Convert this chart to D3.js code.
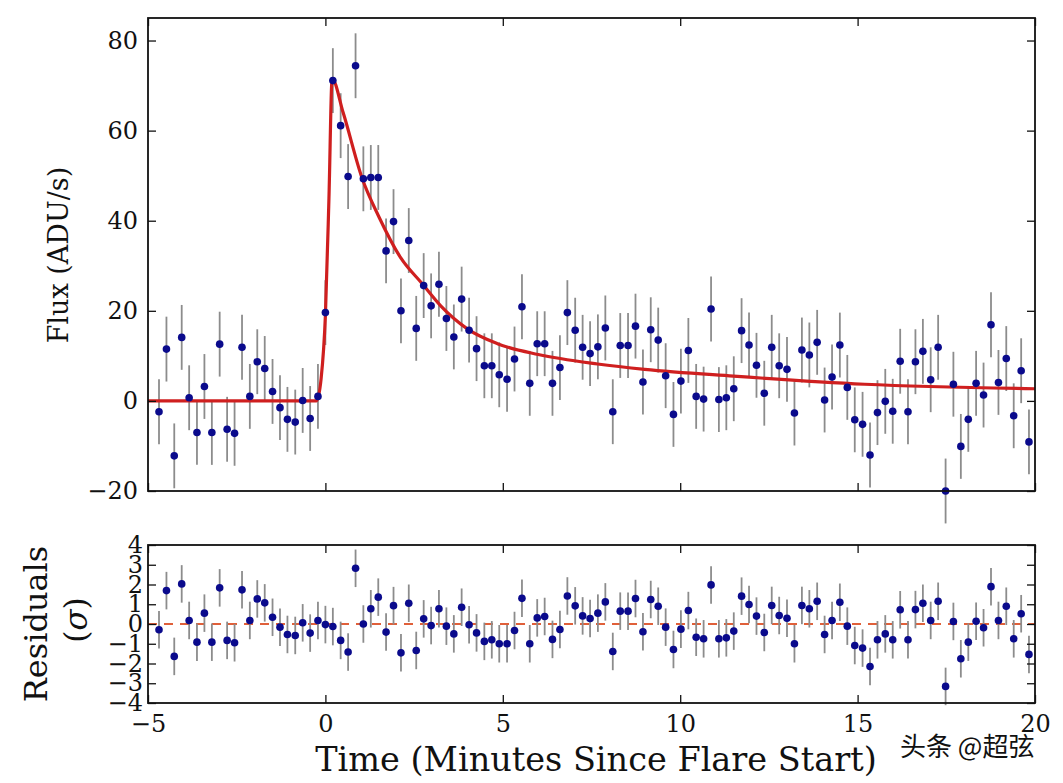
<!DOCTYPE html>
<html>
  <head>
    <meta charset="utf-8">
    <title>Flare light curve</title>
    <script src="https://cdn.jsdelivr.net/npm/d3@7/dist/d3.min.js"></script>
    <style>
      body { margin: 0; background: #fff; }
      text { font-family: 'DejaVu Serif', serif; fill: #111; }
    </style>
  </head>
  <body>
    <svg width="1063" height="783"></svg>
    <script>
      // time of each exposure (minutes since flare start)
      const times = [
        -4.69, -4.48, -4.26, -4.05, -3.84, -3.62, -3.41, -3.20, -2.98, -2.77, -2.56,
        -2.35, -2.13, -1.92, -1.71, -1.49, -1.28, -1.07, -0.85, -0.64, -0.43, -0.21,
        0.00, 0.21, 0.43, 0.64, 0.85, 1.07, 1.28, 1.49, 1.71, 1.92,
        2.13, 2.35, 2.56, 2.77, 2.98, 3.20, 3.41, 3.62, 3.84, 4.05,
        4.26, 4.48, 4.69, 4.90, 5.12, 5.33, 5.54, 5.76, 5.97, 6.18,
        6.40, 6.61, 6.82, 7.04, 7.25, 7.46, 7.68, 7.89, 8.10, 8.31,
        8.53, 8.74, 8.95, 9.17, 9.38, 9.59, 9.81, 10.02, 10.23, 10.45,
        10.66, 10.87, 11.09, 11.30, 11.51, 11.73, 11.94, 12.15, 12.37, 12.58,
        12.79, 13.01, 13.22, 13.43, 13.64, 13.86, 14.07, 14.28, 14.50, 14.71,
        14.92, 15.14, 15.35, 15.56, 15.78, 15.99, 16.20, 16.42, 16.63, 16.84,
        17.06, 17.27, 17.48, 17.70, 17.91, 18.12, 18.34, 18.55, 18.76, 18.97,
        19.19, 19.40, 19.61, 19.83
      ];
      // measured flux (ADU/s)
      const flux = [
        -2.4, 11.5, -12.2, 14.1, 0.7, -7.0, 3.2, -7.0, 12.6, -6.3, -7.2,
        11.9, 1.0, 8.7, 7.2, 2.1, -1.5, -4.1, -4.7, 0.1, -3.9, 1.0,
        19.6, 71.1, 61.1, 49.8, 74.4, 49.3, 49.6, 49.6, 33.3, 39.8,
        20.0, 35.6, 16.1, 25.6, 21.1, 25.9, 18.3, 14.2, 22.6, 15.7,
        11.6, 7.8, 7.8, 5.8, 4.8, 9.3, 20.9, 3.9, 12.7, 12.7,
        3.9, 7.4, 19.6, 15.7, 11.9, 10.5, 12.0, 16.2, -2.4, 12.3,
        12.3, 16.6, 4.2, 15.8, 13.5, 5.6, -3.0, 4.4, 11.2, 1.0,
        0.4, 20.4, 0.3, 0.7, 2.7, 15.6, 12.4, 7.9, 1.7, 11.9,
        7.8, 7.0, -2.7, 11.3, 10.2, 13.0, 0.2, 5.3, 12.4, 3.0,
        -4.2, -5.2, -12.0, -2.6, -0.1, -2.3, 8.8, -2.4, 8.7, 11.0,
        4.7, 11.9, -20.0, 3.7, -10.1, -4.1, 3.9, 1.3, 16.9, 4.1,
        9.4, -3.3, 6.7, -9.1
      ];
      const fluxErr = 7.2;
      // residuals in units of sigma
      const resid = [
        -0.29, 1.69, -1.64, 2.03, 0.18, -0.92, 0.55, -0.92, 1.83, -0.83, -0.95,
        1.73, 0.18, 1.27, 1.07, 0.34, -0.16, -0.53, -0.58, 0.06, -0.46, 0.18,
        -0.03, -0.13, -0.83, -1.42, 2.82, 0.00, 0.77, 1.36, -0.41, 0.93,
        -1.46, 1.05, -1.34, 0.26, -0.08, 0.77, -0.11, -0.50, 0.85, -0.04,
        -0.45, -0.88, -0.80, -1.00, -1.00, -0.33, 1.30, -1.00, 0.31, 0.38,
        -0.78, -0.28, 1.42, 0.92, 0.41, 0.28, 0.55, 1.12, -1.39, 0.65,
        0.65, 1.29, -0.39, 1.24, 0.90, -0.16, -1.29, -0.26, 0.68, -0.67,
        -0.75, 1.98, -0.75, -0.70, -0.36, 1.41, 0.99, 0.40, -0.43, 0.94,
        0.43, 0.29, -1.00, 0.94, 0.77, 1.15, -0.53, 0.18, 1.10, -0.11,
        -1.09, -1.22, -2.15, -0.80, -0.50, -0.80, 0.72, -0.80, 0.73, 1.05,
        0.18, 1.15, -3.16, 0.13, -1.76, -0.92, 0.14, -0.19, 1.89, 0.18,
        0.90, -0.75, 0.52, -1.54
      ];
      const residErr = 0.95;
      // fitted flare model
      const modelT = [-5, -0.25, -0.12, 0.0, 0.1, 0.19, 0.5, 1.04, 1.5, 2.12, 2.73, 3.25, 4.0, 4.85, 6.0, 7.67, 9.0, 11.5, 15.2, 20];
      const modelF = [0, 0, 5, 19, 45, 71.5, 64, 49.3, 41, 31.8, 26, 21.1, 16, 12.7, 10.3, 8.2, 7.0, 5.5, 3.7, 2.7];

      const xTicks = [-5, 0, 5, 10, 15, 20];
      const fluxTicks = [-20, 0, 20, 40, 60, 80];
      const residTicks = [-4, -3, -2, -1, 0, 1, 2, 3, 4];

      const svg = d3.select('svg');
      const left = 148, right = 1035;
      const top1 = 18, bot1 = 491;
      const top2 = 545, bot2 = 703;

      const x = d3.scaleLinear().domain([-5, 20]).range([left, right]);
      const yF = d3.scaleLinear().domain([-20, 85]).range([bot1, top1]);
      const yR = d3.scaleLinear().domain([-4, 4]).range([bot2, top2]);

      const pts = times.map((t, i) => ({t: t, f: flux[i], r: resid[i]}));
      const model = modelT.map((t, i) => ({t: t, f: modelF[i]}));

      const errColor = '#8c8c8c', dotColor = '#0a0a8c';

      // ---- top panel ----
      const g1 = svg.append('g');
      g1.selectAll('line.err').data(pts).enter().append('line')
        .attr('x1', d => x(d.t)).attr('x2', d => x(d.t))
        .attr('y1', d => yF(d.f - fluxErr)).attr('y2', d => yF(d.f + fluxErr))
        .attr('stroke', errColor).attr('stroke-width', 1.8);

      g1.append('path').datum(model)
        .attr('d', d3.line().x(d => x(d.t)).y(d => yF(d.f)).curve(d3.curveMonotoneX))
        .attr('fill', 'none').attr('stroke', '#cf1f1f').attr('stroke-width', 3.2);

      g1.selectAll('circle').data(pts).enter().append('circle')
        .attr('cx', d => x(d.t)).attr('cy', d => yF(d.f)).attr('r', 3.8)
        .attr('fill', dotColor);

      // ---- bottom panel ----
      const g2 = svg.append('g');
      g2.append('line')
        .attr('x1', left).attr('x2', right).attr('y1', yR(0)).attr('y2', yR(0))
        .attr('stroke', '#e0603a').attr('stroke-width', 2).attr('stroke-dasharray', '9,7');
      g2.selectAll('line.err').data(pts).enter().append('line')
        .attr('x1', d => x(d.t)).attr('x2', d => x(d.t))
        .attr('y1', d => yR(d.r - residErr)).attr('y2', d => yR(d.r + residErr))
        .attr('stroke', errColor).attr('stroke-width', 1.8);
      g2.selectAll('circle').data(pts).enter().append('circle')
        .attr('cx', d => x(d.t)).attr('cy', d => yR(d.r)).attr('r', 3.8)
        .attr('fill', dotColor);

      // ---- axes (inward ticks, frame on all four sides) ----
      const fmt = d3.format('');
      function frame(y0, y1, yScale, yTicks, showX, yPad) {
        svg.append('g').attr('transform', `translate(0,${y1})`)
          .call(d3.axisBottom(x).tickValues(xTicks).tickSizeInner(-8).tickSizeOuter(0).tickPadding(12)
            .tickFormat(showX ? fmt : ''));
        svg.append('g').attr('transform', `translate(0,${y0})`)
          .call(d3.axisTop(x).tickValues(xTicks).tickSizeInner(-8).tickSizeOuter(0).tickFormat(''));
        svg.append('g').attr('transform', `translate(${left},0)`)
          .call(d3.axisLeft(yScale).tickValues(yTicks).tickSizeInner(-8).tickSizeOuter(0).tickPadding(yPad).tickFormat(fmt));
        svg.append('g').attr('transform', `translate(${right},0)`)
          .call(d3.axisRight(yScale).tickValues(yTicks).tickSizeInner(-8).tickSizeOuter(0).tickFormat(''));
        svg.append('rect').attr('x', left).attr('y', y0)
          .attr('width', right - left).attr('height', y1 - y0)
          .attr('fill', 'none').attr('stroke', '#111').attr('stroke-width', 1.8);
      }
      frame(top1, bot1, yF, fluxTicks, false, 10);
      frame(top2, bot2, yR, residTicks, true, 5);

      svg.selectAll('.domain').remove();
      svg.selectAll('.tick line').attr('stroke', '#111').attr('stroke-width', 1.3);
      svg.selectAll('.tick text')
        .style('font-family', "'DejaVu Serif', serif")
        .style('font-size', '24px').attr('fill', '#111');

      // ---- labels ----
      svg.append('text')
        .attr('transform', `translate(68,255) rotate(-90)`)
        .attr('text-anchor', 'middle').style('font-size', '27px')
        .text('Flux (ADU/s)');
      svg.append('text')
        .attr('transform', `translate(47,${(top2 + bot2) / 2}) rotate(-90)`)
        .attr('text-anchor', 'middle').style('font-size', '32px')
        .text('Residuals');
      svg.append('text')
        .attr('transform', `translate(87,${(top2 + bot2) / 2 - 4}) rotate(-90)`)
        .attr('text-anchor', 'middle').style('font-size', '31px')
        .html('(<tspan font-style="italic">σ</tspan>)');
      svg.append('text')
        .attr('x', 596).attr('y', 771)
        .attr('text-anchor', 'middle').style('font-size', '33.5px')
        .text('Time (Minutes Since Flare Start)');

      // watermark
      svg.append('text')
        .attr('x', 900).attr('y', 756)
        .style('font-family', "'Noto Sans CJK SC', sans-serif").style('font-size', '26px')
        .attr('fill', '#333')
        .text('头条 @超弦');
    </script>
  </body>
</html>
